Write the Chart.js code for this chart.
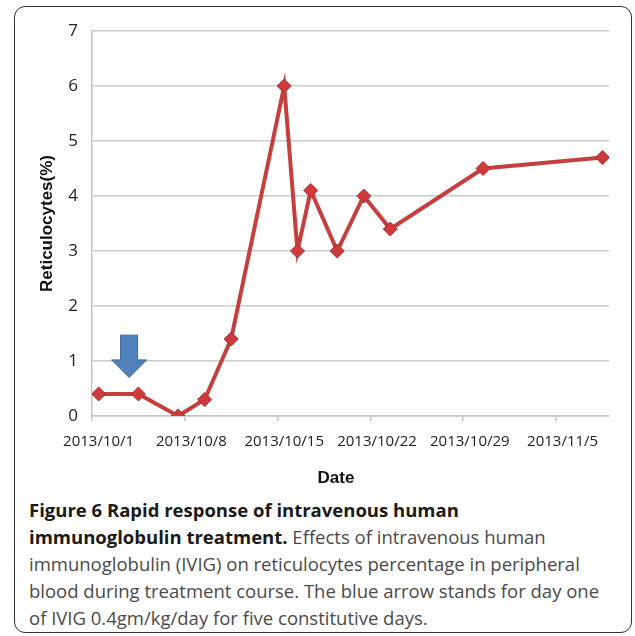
<!DOCTYPE html>
<html>
<head>
<meta charset="utf-8">
<script src="https://cdn.jsdelivr.net/npm/chart.js@4"></script>
<style>
  body { margin: 0; background: #fff; }
  #page { position: relative; width: 635px; height: 636px; overflow: hidden; }
  #frame {
    position: absolute; left: 14px; top: 6px; width: 616px; height: 625px;
    border: 1.5px solid #333; border-radius: 11px;
  }
  #grafico { position: absolute; left: 0; top: 0; }
  #xTitle {
    position: absolute; left: 286px; width: 100px; top: 468px; text-align: center;
    font: bold 17px "Liberation Sans", Arial, sans-serif; color: #111;
  }
  #caption {
    position: absolute; left: 29px; top: 496px; width: 600px;
    font: 18.5px "Open Sans", sans-serif; line-height: 27px; color: #4a4a4a;
    white-space: nowrap;
  }
  #caption b { color: #1a1a1a; }
</style>
</head>
<body>
<div id="page">
  <div id="frame"></div>
  <canvas id="grafico" width="635" height="490"></canvas>
  <div id="xTitle">Date</div>
  <div id="caption">
    <b>Figure 6 Rapid response of intravenous human</b><br>
    <b>immunoglobulin treatment.</b> Effects of intravenous human<br>
    immunoglobulin (IVIG) on reticulocytes percentage in peripheral<br>
    blood during treatment course. The blue arrow stands for day one<br>
    of IVIG 0.4gm/kg/day for five constitutive days.
  </div>
</div>
<script>
// data
const dates = ['2013/10/1', '2013/10/4', '2013/10/7', '2013/10/9', '2013/10/11', '2013/10/15',
  '2013/10/16', '2013/10/17', '2013/10/19', '2013/10/21', '2013/10/23', '2013/10/30', '2013/11/8'];
const reticulocytes = [0.4, 0.4, 0, 0.3, 1.4, 6, 3, 4.1, 3, 4, 3.4, 4.5, 4.7];
const tickLabels = ['2013/10/1', '2013/10/8', '2013/10/15', '2013/10/22', '2013/10/29', '2013/11/5'];
const yTicks = [0, 1, 2, 3, 4, 5, 6, 7];
const axisStart = '2013/10/1';
const axisEnd = '2013/11/8';
// IVIG day one marker (arrow), in data units
const arrowDate = '2013/10/3';
const arrowDayShift = 0.3;
const arrowTop = 1.47;
const arrowNeck = 1.02;
const arrowTip = 0.7;

function dayIndex(s) {
    const p = s.split('/').map(Number);
    const a = axisStart.split('/').map(Number);
    return (Date.UTC(p[0], p[1] - 1, p[2]) - Date.UTC(a[0], a[1] - 1, a[2])) / 86400000;
}

const points = dates.map((d, i) => ({ x: dayIndex(d), y: reticulocytes[i] }));

const arrowPlugin = {
    id: 'ivigArrow',
    afterDatasetsDraw(chart) {
        const { ctx, scales: { x, y } } = chart;
        const cx = x.getPixelForValue(dayIndex(arrowDate) + arrowDayShift);
        const top = y.getPixelForValue(arrowTop);
        const neck = y.getPixelForValue(arrowNeck);
        const tip = y.getPixelForValue(arrowTip);
        const shaft = 8.5, head = 17.5;
        ctx.save();
        ctx.beginPath();
        ctx.moveTo(cx - shaft, top);
        ctx.lineTo(cx + shaft, top);
        ctx.lineTo(cx + shaft, neck);
        ctx.lineTo(cx + head, neck);
        ctx.lineTo(cx, tip);
        ctx.lineTo(cx - head, neck);
        ctx.lineTo(cx - shaft, neck);
        ctx.closePath();
        ctx.fillStyle = '#4f81bd';
        ctx.fill();
        ctx.lineWidth = 1;
        ctx.strokeStyle = '#3b679c';
        ctx.stroke();
        ctx.restore();
    }
};

const canvas = document.getElementById('grafico');
const chart = new Chart(canvas, {
    type: 'line',
    data: {
        datasets: [{
            label: 'Reticulocytes(%)',
            data: points,
            borderColor: '#c4403f',
            borderWidth: 4,
            tension: 0,
            pointStyle: 'rectRot',
            pointRadius: 7,
            pointBackgroundColor: '#cf3a3a',
            pointBorderColor: '#a83030',
            pointBorderWidth: 1
        }]
    },
    options: {
        responsive: false,
        devicePixelRatio: 1,
        animation: false,
        layout: { padding: { top: 31, right: 26, left: 0, bottom: 0 } },
        plugins: { legend: { display: false }, tooltip: { enabled: false } },
        scales: {
            x: {
                type: 'linear',
                min: -0.5,
                max: dayIndex(axisEnd) + 0.5,
                afterBuildTicks: (scale) => {
                    scale.ticks = tickLabels.map(t => ({ value: dayIndex(t) - 0.5 }));
                },
                afterFit: (scale) => { scale.height = 74; },
                ticks: {
                    autoSkip: false,
                    maxRotation: 0,
                    padding: 12,
                    labelOffset: 0,
                    color: '#222',
                    font: { family: 'Open Sans', size: 15 },
                    callback: (v, i) => tickLabels[i]
                },
                grid: { drawOnChartArea: false, drawTicks: true, tickLength: 5, color: '#c4c4c4', lineWidth: 1.5 },
                border: { display: true, color: '#c4c4c4', width: 1.5 }
            },
            y: {
                min: 0,
                max: 7,
                afterBuildTicks: (scale) => {
                    scale.ticks = yTicks.map(v => ({ value: v }));
                },
                afterFit: (scale) => { scale.width = 92; },
                ticks: {
                    padding: 14,
                    color: '#222',
                    font: { family: 'Open Sans', size: 17 }
                },
                grid: { drawTicks: false, color: '#cccccc', lineWidth: 1.5 },
                border: { display: true, color: '#c4c4c4', width: 1.5 },
                title: {
                    display: true,
                    text: 'Reticulocytes(%)',
                    color: '#111',
                    font: { family: 'Liberation Sans', size: 17, weight: 'bold' },
                    padding: { top: 37 }
                }
            }
        }
    },
    plugins: [arrowPlugin]
});

// labels sit in the middle of each day band, half a day right of the tick mark
const xs = chart.scales.x;
chart.options.scales.x.ticks.labelOffset = xs.getPixelForValue(0) - xs.getPixelForValue(-0.5);
chart.update();
</script>
</body>
</html>
